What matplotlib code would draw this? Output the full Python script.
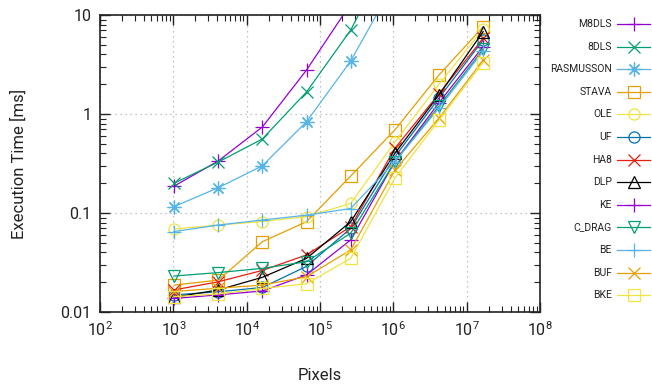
import matplotlib
matplotlib.use("Agg")
import matplotlib.pyplot as plt
from matplotlib.lines import Line2D
from matplotlib.ticker import LogLocator, FixedLocator, FixedFormatter, NullFormatter

plt.rcParams['font.family'] = ['Roboto', 'DejaVu Sans']

pixels = [1024, 4096, 16384, 65536, 262144, 1048576, 4194304, 16777216]

series_names = ["M8DLS", "8DLS", "RASMUSSON", "STAVA", "OLE", "UF", "HA8", "DLP",
                "KE", "C_DRAG", "BE", "BUF", "BKE"]

m8dls = [0.187, 0.335, 0.74, 2.78, 13.0]
dls8 = [0.20, 0.327, 0.56, 1.67, 7.05, 52.0]
rasmusson = [0.116, 0.18, 0.30, 0.836, 3.43, 21.5]
stava = [0.0187, 0.021, 0.0513, 0.0817, 0.236, 0.69, 2.48, 7.6]
ole = [0.069, 0.0755, 0.082, 0.092, 0.125, 0.52, 2.0, 7.2]
uf = [0.0149, 0.016, 0.0177, 0.0289, 0.070, 0.37, 1.45, 5.6]
ha8 = [0.0167, 0.0202, 0.0263, 0.0377, 0.0728, 0.45, 1.6, 5.8]
dlp = [0.0141, 0.0167, 0.0224, 0.0348, 0.0817, 0.40, 1.56, 6.8]
ke = [0.0137, 0.0149, 0.0163, 0.0237, 0.0535, 0.33, 1.3, 4.8]
c_drag = [0.0231, 0.0250, 0.0276, 0.0322, 0.0625, 0.33, 1.2, 4.5]
be = [0.065, 0.0755, 0.085, 0.095, 0.111, 0.33, 1.15, 4.3]
buf = [0.0161, 0.0174, 0.0187, 0.0227, 0.0424, 0.27, 0.91, 3.5]
bke = [0.0143, 0.0152, 0.0173, 0.0193, 0.0348, 0.225, 0.87, 3.3]

all_values = [m8dls, dls8, rasmusson, stava, ole, uf, ha8, dlp, ke, c_drag, be, buf, bke]

purple, green, sky, orange, yellow, blue, red, black = (
    "#9400d3", "#009e73", "#56b4e9", "#e69f00", "#f0e442", "#0072b2", "#e51e10", "#000000")
colors = [purple, green, sky, orange, yellow, blue, red, black, purple, green, sky, orange, yellow]
asterisk = (8, 2, 0)
markers = ['+', 'x', asterisk, 's', 'o', 'o', 'x', '^', '+', 'v', '+', 'x', 's']
msizes = [10, 9, 10, 8, 8, 8, 9, 8, 10, 8, 10, 9, 8]

W, H = 652, 386
fig = plt.figure(figsize=(W / 100, H / 100), dpi=100)
ax = fig.add_axes([100 / W, 1 - 312 / H, 440 / W, 297 / H])

for name, vals, c, m, ms in zip(series_names, all_values, colors, markers, msizes):
    ax.plot(pixels[:len(vals)], vals, color=c, marker=m, markersize=ms,
            markerfacecolor='none', markeredgecolor=c, markeredgewidth=0.9,
            linewidth=0.9, label=name)

ax.set_xscale('log')
ax.set_yscale('log')
ax.set_xlim(1e2, 1e8)
ax.set_ylim(0.01, 10)

ax.xaxis.set_major_locator(LogLocator(base=10, numticks=20))
ax.xaxis.set_minor_locator(LogLocator(base=10, subs=range(2, 10), numticks=100))
ax.xaxis.set_minor_formatter(NullFormatter())
yticks = [0.01, 0.1, 1, 10]
ytick_labels = ["0.01", "0.1", "1", "10"]
ax.yaxis.set_major_locator(FixedLocator(yticks))
ax.yaxis.set_major_formatter(FixedFormatter(ytick_labels))
ax.yaxis.set_minor_locator(LogLocator(base=10, subs=range(2, 10), numticks=100))
ax.yaxis.set_minor_formatter(NullFormatter())

ax.tick_params(which='both', direction='in', top=True, right=True, color='#222222')
ax.tick_params(which='major', length=7, width=1, labelsize=11.5, pad=6, labelcolor='#222222')
ax.tick_params(which='minor', length=4, width=0.8)

ax.grid(True, which='major', linestyle=(0, (1, 3)), color='#b0b0b0', linewidth=0.9)
for sp in ax.spines.values():
    sp.set_linewidth(1.2)
    sp.set_color('#222222')

ax.set_xlabel("Pixels", fontsize=12, labelpad=21, color='#222222')
ax.set_ylabel("Execution Time [ms]", fontsize=12, labelpad=24, color='#222222')

# legend (gnuplot style, labels right aligned, sample on the right)
for i, (name, c, m, ms) in enumerate(zip(series_names, colors, markers, msizes)):
    ypx = 24 + i * 22.6
    yf = 1 - ypx / H
    fig.text(612 / W, yf, name, ha='right', va='center', fontsize=7.5, color='#222222')
    ln = Line2D([617 / W, 633.5 / W, 650 / W], [yf, yf, yf], transform=fig.transFigure,
                color=c, marker=m, markersize=ms, markevery=[1], markerfacecolor='none',
                markeredgecolor=c, markeredgewidth=0.9, linewidth=0.9)
    fig.add_artist(ln)

fig.savefig("out.png", dpi=100)
